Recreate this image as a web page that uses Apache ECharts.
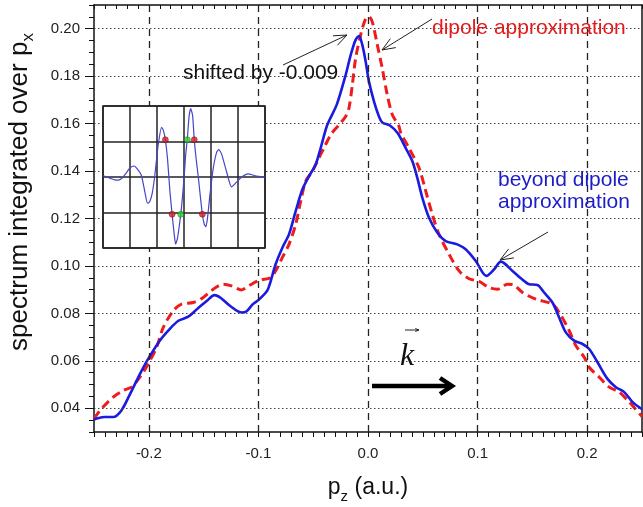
<!DOCTYPE html>
<html>
<head>
<meta charset="utf-8">
<script src="https://cdn.jsdelivr.net/npm/echarts@6/dist/echarts.min.js"></script>
<style>
html,body{margin:0;padding:0;background:#fff}
#chart{width:643px;height:507px}
</style>
</head>
<body>
<div id="chart"></div>
<script>
// beyond dipole approximation (blue, solid)
const beyondDipole=[
[-0.25,0.0352],[-0.248,0.0356],[-0.240,0.0363],[-0.2325,0.0363],[-0.225,0.0391],[-0.217,0.0461],
[-0.208,0.0545],[-0.2006,0.0608],[-0.19,0.0685],[-0.181,0.0734],[-0.173,0.0769],[-0.164,0.0786],
[-0.156,0.0818],[-0.147,0.0853],[-0.140,0.0877],[-0.134,0.0864],[-0.126,0.0832],[-0.1155,0.0804],
[-0.111,0.0808],[-0.105,0.0839],[-0.0995,0.0858],[-0.092,0.0895],[-0.0895,0.0925],[-0.0843,0.1007],
[-0.0781,0.1077],[-0.0721,0.1133],[-0.066,0.1231],[-0.0599,0.1322],[-0.0539,0.1378],[-0.0478,0.1427],
[-0.0432,0.1497],[-0.0371,0.1595],[-0.0285,0.1680],[-0.0204,0.1805],[-0.0158,0.1889],[-0.0113,0.1953],
[-0.0082,0.1969],[-0.0052,0.1932],[-0.0021,0.1861],[0.0009,0.1777],[0.0055,0.1693],[0.010,0.1630],
[0.013,0.1605],[0.020,0.1592],[0.027,0.1560],[0.0344,0.1497],[0.0405,0.1441],[0.045,0.1371],
[0.0496,0.1287],[0.0557,0.1203],[0.0633,0.1140],[0.0709,0.1105],[0.0815,0.1091],[0.0891,0.1070],
[0.0983,0.1021],[0.108,0.0958],[0.1151,0.0986],[0.1212,0.1018],[0.1318,0.0979],[0.1394,0.0948],
[0.147,0.0923],[0.1546,0.0920],[0.1607,0.0888],[0.1683,0.0846],[0.1744,0.0783],[0.1805,0.0720],
[0.1881,0.0685],[0.1957,0.0671],[0.2018,0.0650],[0.2094,0.0594],[0.2185,0.0524],[0.2262,0.0489],
[0.2338,0.0468],[0.2414,0.0426],[0.25,0.0396]
];
// dipole approximation (red, dashed)
const dipole=[
[-0.25,0.0356],[-0.2432,0.0398],[-0.2325,0.0447],[-0.2234,0.0475],[-0.2158,0.0489],[-0.2082,0.0531],
[-0.2006,0.0587],[-0.1929,0.0657],[-0.1868,0.0741],[-0.1777,0.0811],[-0.1701,0.0839],[-0.1595,0.0846],
[-0.1503,0.0867],[-0.1412,0.0902],[-0.1321,0.0923],[-0.1245,0.0916],[-0.1155,0.0899],[-0.1078,0.0919],
[-0.0987,0.0940],[-0.089,0.0950],[-0.0843,0.0979],[-0.0782,0.1035],[-0.0721,0.1091],[-0.066,0.1175],
[-0.0614,0.1273],[-0.0569,0.1357],[-0.0508,0.1399],[-0.0463,0.1441],[-0.0402,0.1497],[-0.034,0.1553],
[-0.0265,0.1595],[-0.0204,0.1630],[-0.0174,0.1665],[-0.0143,0.1763],[-0.0113,0.1875],[-0.0067,0.1974],
[-0.0021,0.2043],[0.0009,0.2050],[0.0039,0.2029],[0.0085,0.1932],[0.013,0.1833],[0.0176,0.1721],
[0.0222,0.1637],[0.028,0.1592],[0.030,0.1560],[0.0374,0.1497],[0.0466,0.1413],[0.0527,0.1315],
[0.0587,0.1217],[0.0648,0.1133],[0.074,0.1049],[0.0831,0.0979],[0.0922,0.0946],[0.1014,0.0935],
[0.1105,0.0909],[0.1181,0.0902],[0.1272,0.0923],[0.132,0.0922],[0.141,0.0888],[0.1531,0.0860],
[0.1683,0.0839],[0.1744,0.0804],[0.1836,0.0727],[0.1897,0.0664],[0.1973,0.0615],[0.2018,0.0573],
[0.211,0.0531],[0.2201,0.0489],[0.2292,0.0468],[0.2384,0.0426],[0.25,0.0365]
];
// inset: wave packet and marked points
const inset=[
[0,0.03],[0.25,-0.03],[0.43,-0.08],[0.56,-0.09],[0.71,-0.03],[0.87,0.12],[0.99,0.25],[1.15,0.31],
[1.27,0.23],[1.42,0.05],[1.55,-0.42],[1.65,-0.74],[1.73,-0.70],[1.82,-0.47],[1.92,0.05],[2.04,0.88],
[2.17,1.40],[2.24,1.30],[2.31,1.05],[2.39,0.51],[2.48,-0.42],[2.56,-1.05],[2.64,-1.63],[2.69,-1.89],
[2.76,-1.72],[2.88,-1.05],[2.95,-0.51],[3.01,0.05],[3.06,0.60],[3.12,1.05],[3.19,1.72],[3.25,1.93],
[3.32,1.72],[3.38,1.05],[3.45,0.51],[3.53,0],[3.60,-0.51],[3.68,-1.05],[3.75,-1.33],[3.81,-1.40],
[3.87,-1.16],[3.96,-0.51],[4.08,0.23],[4.21,0.70],[4.29,0.77],[4.39,0.65],[4.58,0.14],[4.76,-0.28],
[4.89,-0.19],[5.14,0],[5.38,0.09],[5.57,0.05],[5.75,0.02],[6,0]
];
const insetRed=[[2.31,1.05],[3.38,1.05],[2.56,-1.05],[3.68,-1.05]];
const insetGreen=[[3.12,1.05],[2.88,-1.05]];
const xTicks=[-0.2,-0.1,0,0.1,0.2];
const yTicks=[0.04,0.06,0.08,0.10,0.12,0.14,0.16,0.18,0.20];

const FONT='"Liberation Sans", Arial, sans-serif';

function arrow(x1,y1,x2,y2,len,w){
 let a=Math.atan2(y2-y1,x2-x1),s=0.38;
 return [
  {type:'line',z:100,shape:{x1:x1,y1:y1,x2:x2,y2:y2},style:{stroke:'#222',lineWidth:w}},
  {type:'polyline',z:100,shape:{points:[[x2-len*Math.cos(a-s),y2-len*Math.sin(a-s)],[x2,y2],[x2-len*Math.cos(a+s),y2-len*Math.sin(a+s)]]},style:{stroke:'#222',lineWidth:w,fill:null}}
 ];
}

var c=echarts.init(document.getElementById('chart'));
c.setOption({
 animation:false,
 backgroundColor:'#fff',
 grid:[
  {left:94,right:1,top:5,bottom:75,show:false},
  {left:103,top:106,width:162,height:142,show:true,backgroundColor:'#fff',borderColor:'#222',borderWidth:1.5,z:10}
 ],
 xAxis:[
  {type:'value',gridIndex:0,min:-0.25,max:0.25,interval:0.01,position:'bottom',
   axisLine:{show:true,onZero:false,lineStyle:{color:'#111',width:1.5}},
   axisTick:{show:true,length:5,lineStyle:{color:'#111'}},
   axisLabel:{customValues:xTicks,formatter:v=>v.toFixed(1),fontSize:15,color:'#222',fontFamily:FONT,margin:14},
   splitLine:{show:false}},
  {type:'value',gridIndex:0,min:-0.25,max:0.25,interval:0.01,position:'top',
   axisLine:{show:true,onZero:false,lineStyle:{color:'#111',width:1.5}},
   axisTick:{show:true,inside:true,length:4,lineStyle:{color:'#111'}},
   axisLabel:{show:false},splitLine:{show:false}},
  {type:'value',gridIndex:1,min:0,max:6,interval:1,z:11,
   axisLine:{show:false,onZero:false},axisTick:{show:false},axisLabel:{show:false},
   splitLine:{show:true,lineStyle:{color:'#222',width:1.5}}}
 ],
 yAxis:[
  {type:'value',gridIndex:0,min:0.03,max:0.21,interval:0.005,position:'left',
   axisLine:{show:true,onZero:false,lineStyle:{color:'#111',width:1.5}},
   axisTick:{show:true,customValues:yTicks,length:9,lineStyle:{color:'#111'}},
   axisLabel:{customValues:yTicks,formatter:v=>v.toFixed(2),fontSize:15,color:'#222',fontFamily:FONT,margin:14},
   splitLine:{show:false}},
  {type:'value',gridIndex:0,min:0.03,max:0.21,interval:0.005,position:'left',
   axisLine:{show:false,onZero:false},axisTick:{show:true,length:5,lineStyle:{color:'#111'}},
   axisLabel:{show:false},splitLine:{show:false}},
  {type:'value',gridIndex:0,min:0.03,max:0.21,interval:0.005,position:'right',
   axisLine:{show:true,onZero:false,lineStyle:{color:'#111',width:1.5}},axisTick:{show:false},
   axisLabel:{show:false},splitLine:{show:false}},
  {type:'value',gridIndex:1,min:-2,max:2,interval:1,z:11,
   axisLine:{show:false,onZero:false},axisTick:{show:false},axisLabel:{show:false},
   splitLine:{show:true,lineStyle:{color:'#222',width:1.5}}}
 ],
 series:[
  {type:'line',xAxisIndex:0,yAxisIndex:0,data:[],z:1,silent:true,
   markLine:{silent:true,symbol:'none',label:{show:false},animation:false,
    data:xTicks.map(v=>({xAxis:v,lineStyle:{type:[7,5],color:'#222',width:1.3}}))
     .concat(yTicks.map(v=>({yAxis:v,lineStyle:{type:[1.5,2.5],color:'#444',width:1.2}})))}},
  {name:'dipole approximation',type:'line',xAxisIndex:0,yAxisIndex:0,data:dipole,smooth:0.3,symbol:'none',z:3,
   lineStyle:{color:'#ee1c1c',width:3,type:[9,5]}},
  {name:'beyond dipole approximation',type:'line',xAxisIndex:0,yAxisIndex:0,data:beyondDipole,smooth:0.3,symbol:'none',z:4,
   lineStyle:{color:'#1a1ae0',width:2.6}},
  {type:'line',xAxisIndex:2,yAxisIndex:3,data:inset,smooth:0.2,symbol:'none',z:12,
   lineStyle:{color:'#4545c8',width:1.2}},
  {type:'scatter',xAxisIndex:2,yAxisIndex:3,data:insetRed,symbolSize:6,z:13,
   itemStyle:{color:'#d42020',borderColor:'#600',borderWidth:0.5}},
  {type:'scatter',xAxisIndex:2,yAxisIndex:3,data:insetGreen,symbolSize:6,z:13,
   itemStyle:{color:'#30d030',borderColor:'#060',borderWidth:0.5}}
 ],
 graphic:[
  {type:'text',x:20,y:192,rotation:Math.PI/2,z:100,
   style:{text:'{a|spectrum integrated over p}{b|x}',align:'center',verticalAlign:'middle',
    rich:{a:{fontSize:26,fontFamily:FONT,fill:'#111',lineHeight:34,verticalAlign:'middle'},
          b:{fontSize:17,fontFamily:FONT,fill:'#111',lineHeight:16,verticalAlign:'bottom'}}}},
  {type:'text',x:368,y:488,z:100,
   style:{text:'{a|p}{b|z}{a| (a.u.)}',align:'center',verticalAlign:'middle',
    rich:{a:{fontSize:23,fontFamily:FONT,fill:'#111',lineHeight:32,verticalAlign:'middle'},
          b:{fontSize:15,fontFamily:FONT,fill:'#111',lineHeight:15,verticalAlign:'bottom'}}}},
  {type:'text',x:183,y:73,z:100,style:{text:'shifted by -0.009',fontSize:21,fontFamily:FONT,fill:'#111',verticalAlign:'middle'}},
  {type:'text',x:432,y:28,z:100,style:{text:'dipole approximation',fontSize:21,fontFamily:FONT,fill:'#e31a1c',verticalAlign:'middle'}},
  {type:'text',x:498,y:180,z:100,style:{text:'beyond dipole',fontSize:21,fontFamily:FONT,fill:'#1c1cc8',verticalAlign:'middle'}},
  {type:'text',x:498,y:202,z:100,style:{text:'approximation',fontSize:21,fontFamily:FONT,fill:'#1c1cc8',verticalAlign:'middle'}},
  {type:'text',x:407,y:357,z:100,style:{text:'k',fontSize:32,fontStyle:'italic',fontFamily:'"Liberation Serif", serif',fill:'#111',align:'center',verticalAlign:'middle'}},
  ...arrow(405,330,419,330,4,1),
  ...arrow(283,65,347,35,14,1),
  ...arrow(432,19,382,50,14,1),
  ...arrow(548,232,500,260,14,1),
  {type:'line',shape:{x1:372,y1:386,x2:451,y2:386},z:100,style:{stroke:'#000',lineWidth:4.5}},
  {type:'polyline',shape:{points:[[440,378],[452,386],[440,394]]},z:100,style:{stroke:'#000',lineWidth:4.5,fill:null,lineJoin:'miter'}}
 ]
});
</script>
</body>
</html>
